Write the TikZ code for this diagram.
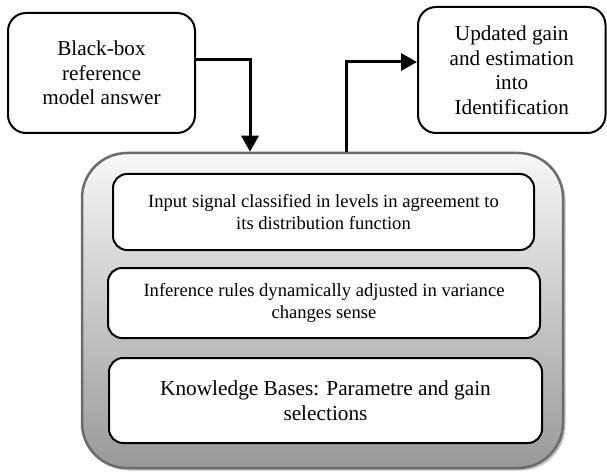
\documentclass[tikz,border=0pt]{standalone}
\usepackage{fontspec}
\setmainfont{Liberation Serif}
\usetikzlibrary{arrows.meta,shadows}
\tikzset{
  topbox/.style={draw=black, line width=2pt, rounded corners=18pt, fill=white, align=center, inner sep=0pt,
    font=\fontsize{21.2}{24.5}\selectfont},
  bigbox/.style={draw=black!58, line width=2.5pt, rounded corners=45pt, top color=white!97!black, bottom color=black!40,
    drop shadow={shadow xshift=2.5pt, shadow yshift=-2.5pt, fill=black!30, opacity=0.8}},
  innerbox/.style={draw=black, line width=2pt, rounded corners=14pt, fill=white, align=center, inner sep=0pt},
  smalltext/.style={font=\fontsize{18.6}{21.5}\selectfont},
  largetext/.style={font=\fontsize{21.3}{25}\selectfont},
  arr/.style={line width=3pt, -{Triangle[length=16pt,width=17pt]}}
}
\begin{document}
\begin{tikzpicture}[x=1pt,y=-1pt]
\useasboundingbox (0,0) rectangle (607,473);
\node[topbox, minimum width=187pt, minimum height=120pt] (A) at (101.5,73) {Black-box\\reference\\model answer};
\node[topbox, minimum width=187.5pt, minimum height=126pt] (B) at (511.75,70) {Updated gain\\and estimation\\into\\Identification};
\node[bigbox, minimum width=481pt, minimum height=315pt] (C) at (322.5,310.5) {};
\node[innerbox, smalltext, minimum width=421pt, minimum height=76pt] (D) at (323.5,212) {Input signal classified in levels in agreement to\\its distribution function};
\node[innerbox, smalltext, minimum width=432pt, minimum height=70pt] (E) at (324,303) {Inference rules dynamically adjusted in variance\\changes sense};
\node[innerbox, largetext, minimum width=433pt, minimum height=85pt] (F) at (325.5,400.5) {Knowledge Bases: Parametre and gain\\selections};
\draw[arr] ([yshift=13pt]A.east) -| ([xshift=-72.5pt]C.north);
\draw[arr] ([xshift=23.5pt]C.north) |- ([yshift=8pt]B.west);
\end{tikzpicture}
\end{document}
